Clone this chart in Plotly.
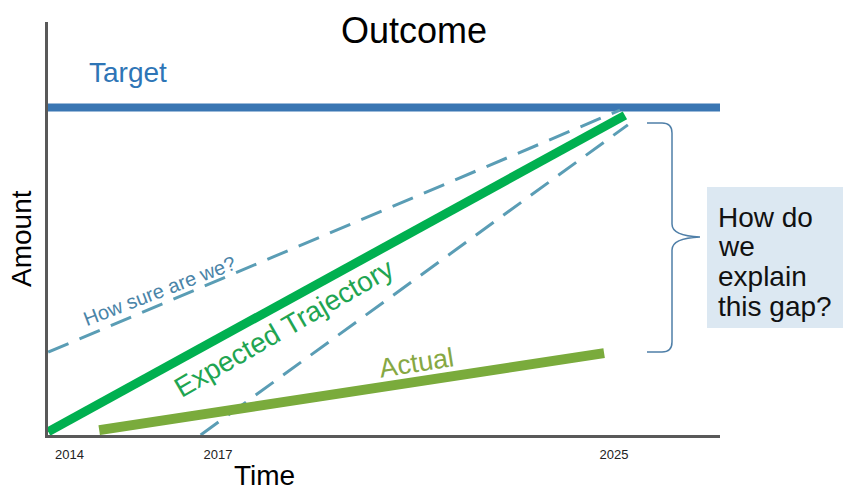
import plotly.graph_objects as go

# ---- data ----
tick_years = [2014, 2017, 2025]
tick_labels = ["2014", "2017", "2025"]

target_years = [2013.5, 2027.2]
target_values = [100, 100]

expected_years = [2013.57, 2025.22]
expected_values = [1.0, 97.6]

upper_years = [2013.57, 2025.12]
upper_values = [25.3, 99.2]

lower_years = [2016.65, 2025.28]
lower_values = [0.0, 94.7]

actual_years = [2014.6, 2024.8]
actual_values = [1.5, 25.0]

# ---- layout geometry ----
W, H = 843, 490
L, R, T, B = 48, 123, 22, 55
PW, PH = W - L - R, H - T - B
FONT = "Liberation Sans, Arial, sans-serif"


def px(x):
    return (x - L) / PW


def py(y):
    return (H - B - y) / PH


fig = go.Figure()

fig.add_trace(go.Scatter(x=target_years, y=target_values, mode="lines",
                         line=dict(color="#3a76b3", width=8), name="Target"))
fig.add_trace(go.Scatter(x=upper_years, y=upper_values, mode="lines",
                         line=dict(color="#5a9db5", width=3, dash="22px,12px"), name="Upper"))
fig.add_trace(go.Scatter(x=lower_years, y=lower_values, mode="lines",
                         line=dict(color="#5a9db5", width=3, dash="22px,12px"), name="Lower"))
fig.add_trace(go.Scatter(x=expected_years, y=expected_values, mode="lines",
                         line=dict(color="#00b050", width=9), name="Expected Trajectory"))
fig.add_trace(go.Scatter(x=actual_years, y=actual_values, mode="lines",
                         line=dict(color="#7aab3c", width=10), name="Actual"))

annotations = [
    dict(x=px(128), y=py(73), text="Target", font=dict(size=28, color="#2e75b6")),
    dict(x=px(264), y=py(476), text="Time", font=dict(size=28, color="#000000")),
    dict(x=px(22), y=py(239), text="Amount", textangle=-90, font=dict(size=28, color="#000000")),
    dict(x=px(159), y=py(291), text="How sure are we?", textangle=-21,
         font=dict(size=20, color="#4a84a8")),
    dict(x=px(283), y=py(328), text="Expected Trajectory", textangle=-30,
         font=dict(size=28, color="#1fa552")),
    dict(x=px(416), y=py(363), text="Actual", textangle=-9,
         font=dict(size=27, color="#86a843")),
]
box_lines = ["How do", "we", "explain", "this gap?"]
box_centers = [217, 246, 276, 306]
for t, yc in zip(box_lines, box_centers):
    annotations.append(dict(x=px(716), y=py(yc), text=t, xanchor="left",
                            font=dict(size=28, color="#111111")))
for a in annotations:
    a.setdefault("xanchor", "center")
    a.update(xref="paper", yref="paper", yanchor="middle", showarrow=False)
    a["font"]["family"] = FONT

brace = [(647, 123), (662, 123), (672, 123), (672, 133), (672, 224), (672, 236), (700, 237),
         (672, 238), (672, 250), (672, 342), (672, 352), (662, 352), (647, 352)]
b = [(px(x), py(y)) for x, y in brace]
path = (f"M {b[0][0]},{b[0][1]} L {b[1][0]},{b[1][1]} Q {b[2][0]},{b[2][1]} {b[3][0]},{b[3][1]} "
        f"L {b[4][0]},{b[4][1]} Q {b[5][0]},{b[5][1]} {b[6][0]},{b[6][1]} "
        f"Q {b[7][0]},{b[7][1]} {b[8][0]},{b[8][1]} L {b[9][0]},{b[9][1]} "
        f"Q {b[10][0]},{b[10][1]} {b[11][0]},{b[11][1]} L {b[12][0]},{b[12][1]}")

shapes = [
    dict(type="rect", xref="paper", yref="paper", x0=px(707), x1=px(850), y0=py(328), y1=py(187),
         fillcolor="#dce8f2", line=dict(width=0), layer="below"),
    dict(type="path", xref="paper", yref="paper", path=path,
         line=dict(color="#4f7fa8", width=1.5)),
]

fig.update_layout(
    width=W, height=H, autosize=False,
    margin=dict(l=L, r=R, t=T, b=B),
    paper_bgcolor="white", plot_bgcolor="white",
    showlegend=False,
    font=dict(family=FONT),
    title=dict(text="Outcome", x=414 / W, y=1 - 30 / H, xref="container", yref="container",
               xanchor="center", yanchor="middle", font=dict(size=36, color="#000000", family=FONT)),
    xaxis=dict(range=[2013.566, 2027.141], showline=True, linecolor="#595959", linewidth=3,
               showgrid=False, zeroline=False, ticks="", tickvals=tick_years, ticktext=tick_labels,
               tickfont=dict(size=13, color="#222222", family=FONT), ticklabelstandoff=5),
    yaxis=dict(range=[0, 126.1], showline=True, linecolor="#595959", linewidth=3,
               showgrid=False, zeroline=False, ticks="", showticklabels=False),
    annotations=annotations,
    shapes=shapes,
)

fig.write_html("out.html")
